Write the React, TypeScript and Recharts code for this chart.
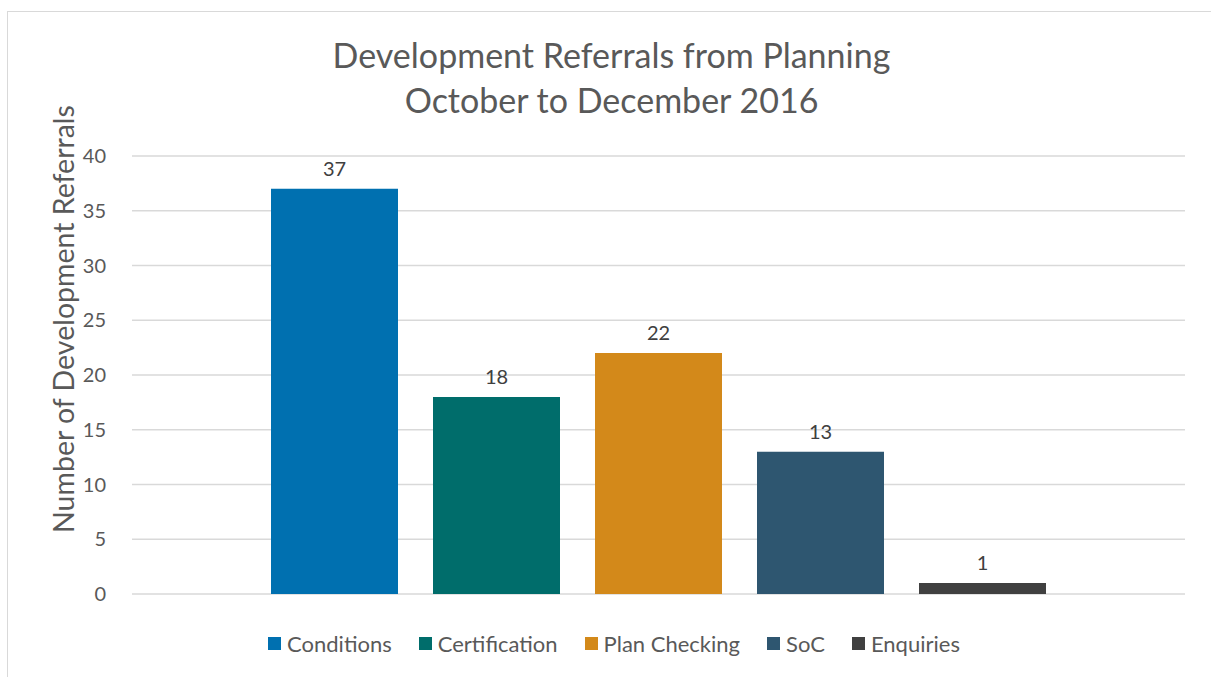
import React from 'react';
import { BarChart, Bar, XAxis, YAxis, CartesianGrid, LabelList } from 'recharts';

// Referral counts, one bar per referral type
const seriesNames = ['Conditions', 'Certification', 'Plan Checking', 'SoC', 'Enquiries'];
const seriesValues = [37, 18, 22, 13, 1];
const seriesColors = ['#0070b0', '#006d6b', '#d3891a', '#2e5670', '#404040'];
const yTicks = [0, 5, 10, 15, 20, 25, 30, 35, 40];
const titleLines = ['Development Referrals from Planning', 'October to December 2016'];
const yLabel = 'Number of Development Referrals';

const row: Record<string, number | string> = { period: 'Oct-Dec 2016' };
seriesNames.forEach((n, i) => {
    row[n] = seriesValues[i];
});
const data = [row];

const FONT = 'Lato, "Open Sans", sans-serif';

export default function App() {
    return (
        <div style={{ position: 'fixed', left: 0, top: 0, width: 1211, height: 677, background: '#fff', overflow: 'hidden', fontFamily: FONT }}>
            {/* chart frame */}
            <div style={{ position: 'absolute', left: 7, top: 11, width: 1220, height: 700, border: '1px solid #d9d9d9' }} />

            <div style={{ position: 'absolute', left: 0, top: 32, width: 1223, textAlign: 'center', color: '#595959', fontSize: 34, lineHeight: '45px' }}>
                {titleLines.map((t) => (
                    <div key={t}>{t}</div>
                ))}
            </div>

            <div
                style={{
                    position: 'absolute',
                    left: 63,
                    top: 319,
                    transform: 'translate(-50%, -50%) rotate(-90deg)',
                    whiteSpace: 'nowrap',
                    color: '#595959',
                    fontSize: 28.5,
                }}
            >
                {yLabel}
            </div>

            <div style={{ position: 'absolute', left: 0, top: 0 }}>
                <BarChart
                    width={1211}
                    height={677}
                    data={data}
                    margin={{ top: 156, right: 26, left: 72, bottom: 83 }}
                    barSize={127}
                    barGap={35}
                >
                    <CartesianGrid vertical={false} stroke="#d9d9d9" strokeWidth={1.5} />
                    <XAxis dataKey="period" hide />
                    <YAxis
                        width={60}
                        domain={[0, 40]}
                        ticks={yTicks}
                        axisLine={false}
                        tickLine={false}
                        tickMargin={20}
                        tick={{ fill: '#595959', fontSize: 20, fontFamily: FONT }}
                        interval={0}
                    />
                    {seriesNames.map((n, i) => (
                        <Bar key={n} dataKey={n} fill={seriesColors[i]} isAnimationActive={false}>
                            <LabelList dataKey={n} position="top" offset={13} fill="#404040" fontSize={20} fontFamily={FONT} />
                        </Bar>
                    ))}
                </BarChart>
            </div>

            {/* legend */}
            <div style={{ position: 'absolute', left: 0, top: 630, width: 1228, display: 'flex', justifyContent: 'center', gap: 27, color: '#595959', fontSize: 22 }}>
                {seriesNames.map((n, i) => (
                    <div key={n} style={{ display: 'flex', alignItems: 'center', gap: 6 }}>
                        <span style={{ display: 'inline-block', width: 13, height: 13, background: seriesColors[i] }} />
                        <span>{n}</span>
                    </div>
                ))}
            </div>
        </div>
    );
}
